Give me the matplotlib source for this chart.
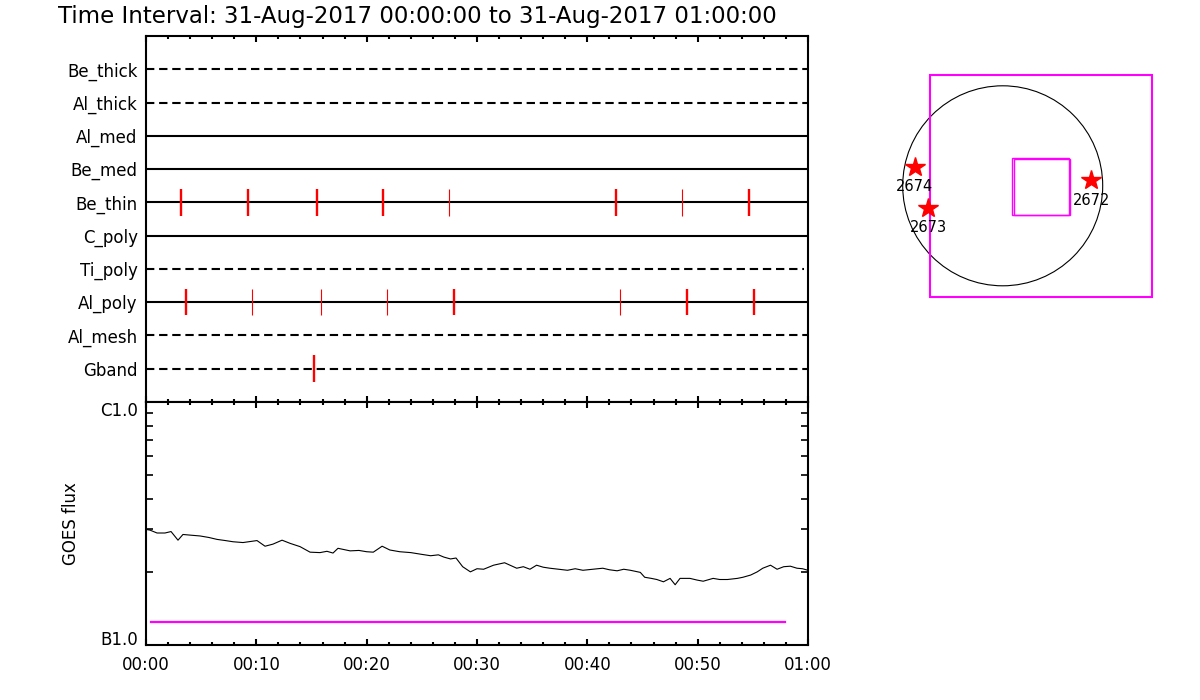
import matplotlib
matplotlib.use('Agg')
import matplotlib.pyplot as plt
from matplotlib import patches
from matplotlib.ticker import FixedLocator, FixedFormatter, MultipleLocator, LogLocator, NullFormatter

title = 'Time Interval: 31-Aug-2017 00:00:00 to 31-Aug-2017 01:00:00'

# filter channels, top to bottom
channels = ['Be_thick', 'Al_thick', 'Al_med', 'Be_med', 'Be_thin',
            'C_poly', 'Ti_poly', 'Al_poly', 'Al_mesh', 'Gband']
channel_used = [False, False, True, True, True, True, False, True, False, False]
channel_end = [60, 60, 60, 60, 60, 60, 59.6, 60, 60, 60]

# exposure times (minutes after 00:00), full = long exposure
be_thin_times = [3.17, 9.24, 15.5, 21.48, 27.49, 42.57, 48.6, 54.65]
be_thin_full = [True, True, True, True, False, True, False, True]
al_poly_times = [3.63, 9.63, 15.89, 21.87, 27.92, 42.99, 49.0, 55.08]
al_poly_full = [True, False, False, False, True, False, True, True]
gband_times = [15.23]
gband_full = [True]

time_ticks = [0, 10, 20, 30, 40, 50, 60]
time_labels = ['00:00', '00:10', '00:20', '00:30', '00:40', '00:50', '01:00']

# GOES 1-8 A flux, units of 1e-7 W/m^2
goes_min = [0.0, 0.36, 1.0, 1.72, 2.27, 2.9, 3.35, 4.1, 4.9, 5.7, 6.44, 7.2, 7.89,
            8.79, 10.06, 10.79, 11.5, 12.33, 13.06, 13.96, 14.87, 15.77, 16.4,
            16.95, 17.4, 18.5, 19.3, 20.0, 20.6, 21.4, 22.1, 23.0, 24.0, 25.0,
            25.8, 26.5, 27.0, 27.6, 28.1, 28.7, 29.4, 30.0, 30.6, 31.5, 32.5,
            33.6, 34.2, 34.8, 35.4, 36.0, 36.6, 37.4, 38.2, 38.9, 39.6, 40.5,
            41.4, 42.0, 42.7, 43.3, 43.9, 44.8, 45.2, 45.8, 46.3, 46.9, 47.5,
            47.96, 48.4, 49.3, 49.95, 50.5, 51.4, 52.0, 52.7, 53.6, 54.1, 54.8,
            55.4, 55.9, 56.6, 57.2, 57.8, 58.4, 59.0, 59.5, 60.0]
goes_flux = [2.99, 2.97, 2.89, 2.89, 2.93, 2.70, 2.85, 2.83, 2.81, 2.77, 2.72, 2.69, 2.66,
             2.64, 2.69, 2.55, 2.60, 2.70, 2.62, 2.54, 2.41, 2.40, 2.43,
             2.39, 2.50, 2.44, 2.45, 2.42, 2.41, 2.55, 2.46, 2.42, 2.40, 2.36,
             2.33, 2.35, 2.30, 2.26, 2.28, 2.10, 2.00, 2.06, 2.05, 2.13, 2.18,
             2.07, 2.10, 2.05, 2.13, 2.09, 2.07, 2.05, 2.03, 2.06, 2.03, 2.05,
             2.07, 2.04, 2.02, 2.05, 2.03, 1.99, 1.90, 1.88, 1.86, 1.82, 1.88,
             1.77, 1.88, 1.88, 1.85, 1.83, 1.88, 1.86, 1.86, 1.88, 1.90, 1.94,
             2.00, 2.07, 2.13, 2.05, 2.10, 2.11, 2.07, 2.06, 2.03]
threshold_flux = 1.24
threshold_start = 0.45
threshold_end = 57.9
goes_ticks = [1e-7, 1e-6]
goes_tick_labels = ['B1.0', 'C1.0']

# solar disk view, arcsec
sun_radius = 950
fov_center = (366, -5)
fov_size = 2109
small_fov_centers = [(359, -5), (375, -14)]
small_fov_size = 536
region_numbers = ['2674', '2673', '2672']
region_x = [-836, -707, 842]
region_y = [181, -208, 55]

fig = plt.figure(figsize=(12, 7), dpi=100)
W, H = 1200, 700


def px_axes(x0, y0, x1, y1):
    return fig.add_axes([x0 / W, 1 - y1 / H, (x1 - x0) / W, (y1 - y0) / H])


fs = 12
lw_axis = 1.5

# ---------- top panel: filter timeline ----------
ax1 = px_axes(146, 36, 808, 402)
n = len(channels)
rows = list(range(n, 0, -1))
for name, row, used, end in zip(channels, rows, channel_used, channel_end):
    ls = '-' if used else (0, (4, 2.3))
    ax1.plot([0, end], [row, row], color='black', lw=1.5, ls=ls, solid_capstyle='butt')

marks = {'Be_thin': (be_thin_times, be_thin_full),
         'Al_poly': (al_poly_times, al_poly_full),
         'Gband': (gband_times, gband_full)}
for name, (times, full) in marks.items():
    row = rows[channels.index(name)]
    for t, f in zip(times, full):
        ax1.vlines(t, row - 0.4, row + 0.4, color='red', lw=1.7 if f else 0.8)

ax1.set_xlim(0, 60)
ax1.set_ylim(0, n + 1)
ax1.set_yticks(rows)
ax1.set_yticklabels(channels, fontsize=fs)
ax1.tick_params(axis='y', length=0, pad=6)
ax1.xaxis.set_major_locator(MultipleLocator(10))
ax1.xaxis.set_minor_locator(MultipleLocator(2))
ax1.tick_params(axis='x', which='both', direction='in', top=True, bottom=True,
                labelbottom=False, width=lw_axis)
ax1.tick_params(axis='x', which='major', length=4.5)
ax1.tick_params(axis='x', which='minor', length=2.5)
for s in ax1.spines.values():
    s.set_linewidth(lw_axis)

# ---------- bottom panel: GOES flux ----------
ax2 = px_axes(146, 402, 808, 645)
ax2.plot(goes_min, [v * 1e-7 for v in goes_flux], color='black', lw=0.8)
ax2.plot([threshold_start, threshold_end], [threshold_flux * 1e-7] * 2, color='#ff00ff', lw=1.6)
ax2.set_yscale('log')
ax2.set_ylim(1e-7, 1e-6)
ax2.set_xlim(0, 60)
ax2.yaxis.set_major_locator(FixedLocator(goes_ticks))
ax2.yaxis.set_major_formatter(FixedFormatter(goes_tick_labels))
ax2.yaxis.set_minor_locator(LogLocator(base=10, subs=[2, 3, 4, 5, 6, 7, 8, 9]))
ax2.yaxis.set_minor_formatter(NullFormatter())
ax2.tick_params(axis='y', which='both', direction='in', left=True, right=True,
                width=1.2, labelsize=fs, pad=6)
ax2.tick_params(axis='y', which='minor', length=5)
ax2.tick_params(axis='y', which='major', length=5)
ax2.set_xticks(time_ticks)
ax2.set_xticklabels(time_labels, fontsize=fs)
ax2.xaxis.set_minor_locator(MultipleLocator(2))
ax2.tick_params(axis='x', which='both', direction='in', top=True, bottom=True,
                width=lw_axis, pad=8)
ax2.tick_params(axis='x', which='major', length=4.5)
ax2.tick_params(axis='x', which='minor', length=2.5)
ylabs = ax2.get_yticklabels()
ylabs[0].set_va('baseline')
ylabs[1].set_va('top')
ax2.set_ylabel('GOES flux', fontsize=fs, labelpad=14)
for s in ax2.spines.values():
    s.set_linewidth(lw_axis)

fig.text(58 / W, 1 - 23 / H, title, fontsize=16.5, ha='left', va='baseline')

# ---------- right panel: solar disk ----------
scale = 9.5  # arcsec per pixel
cx, cy = 1002.7, 185.8
ax3 = px_axes(880, 50, 1180, 320)
ax3.set_xlim((880 - cx) * scale, (1180 - cx) * scale)
ax3.set_ylim((cy - 320) * scale, (cy - 50) * scale)
ax3.axis('off')
ax3.add_patch(patches.Circle((0, 0), sun_radius, fill=False, color='black', lw=0.8))
ax3.add_patch(patches.Rectangle((fov_center[0] - fov_size / 2, fov_center[1] - fov_size / 2),
                                fov_size, fov_size, fill=False, color='#ff00ff', lw=1.5))
for c in small_fov_centers:
    ax3.add_patch(patches.Rectangle((c[0] - small_fov_size / 2, c[1] - small_fov_size / 2),
                                    small_fov_size, small_fov_size, fill=False,
                                    color='#ff00ff', lw=1.0))
ax3.plot(region_x, region_y, ls='none', marker='*', color='red', ms=15)
for num, x, y in zip(region_numbers, region_x, region_y):
    ax3.annotate(num, (x, y), xytext=(0, -14.5), textcoords='offset points',
                 ha='center', va='center', fontsize=10.5)

fig.savefig('out.png', dpi=100)
